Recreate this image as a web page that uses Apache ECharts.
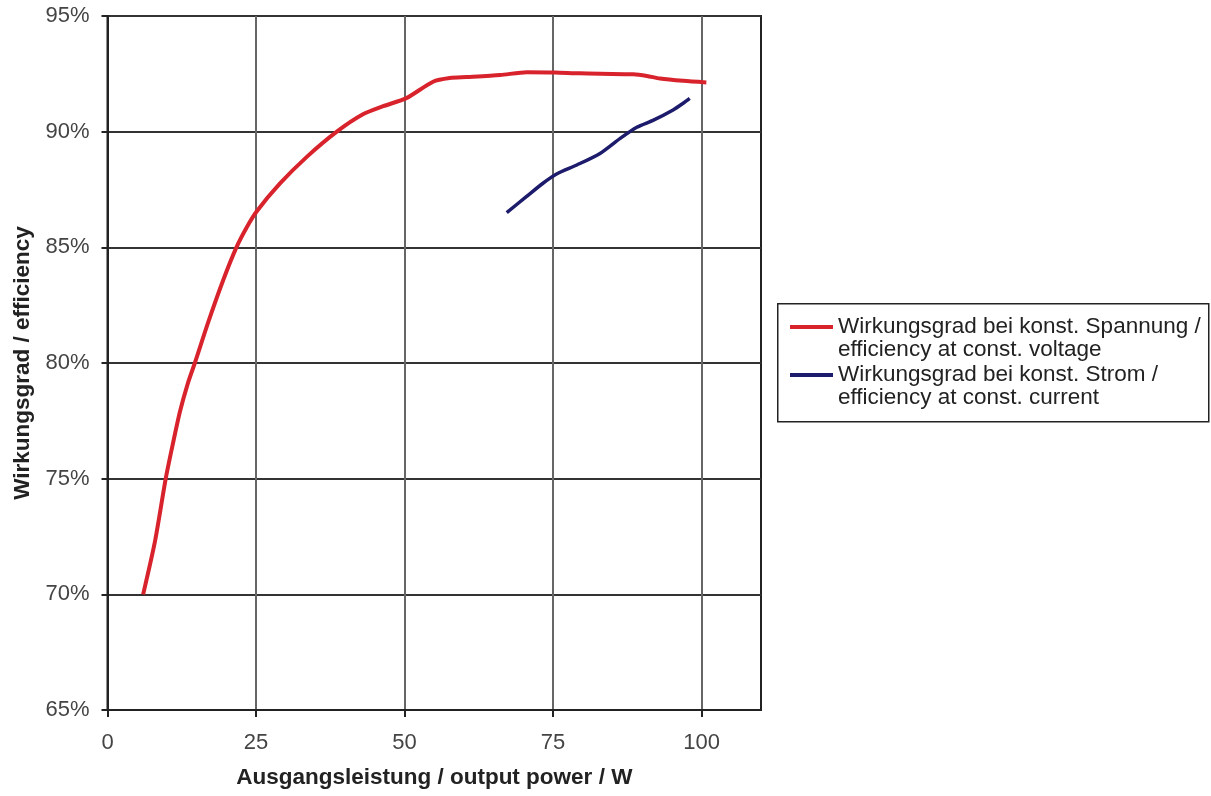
<!DOCTYPE html>
<html>
<head>
<meta charset="utf-8">
<script src="https://cdn.jsdelivr.net/npm/echarts@6/dist/echarts.min.js"></script>
<style>html,body{margin:0;padding:0;background:#fff;}#c{width:1211px;height:796px;}</style>
</head>
<body>
<div id="c"></div>
<script>
const seriesNames = ['Wirkungsgrad bei konst. Spannung /\nefficiency at const. voltage', 'Wirkungsgrad bei konst. Strom /\nefficiency at const. current'];
const redX = [6.0, 8.0, 9.8, 11.0, 12.2, 13.5, 14.7, 17.0, 19.5, 21.7, 23.4, 25.1, 29.0, 33.5, 38.6, 43.0, 46.4, 50.3, 54.8, 57.6, 60.5, 66.1, 70.6, 75.3, 79.5, 88.5, 90.8, 93.0, 96.9, 100.8];
const redY = [70.0, 72.3, 75.0, 76.5, 77.9, 79.1, 80.0, 81.8, 83.6, 85.0, 85.85, 86.55, 87.75, 88.9, 90.0, 90.75, 91.1, 91.45, 92.16, 92.32, 92.36, 92.45, 92.57, 92.56, 92.52, 92.48, 92.41, 92.3, 92.2, 92.13];
const blueX = [67.2, 70.5, 73.3, 75.6, 79.0, 82.9, 86.3, 89.1, 91.9, 95.2, 96.9, 98.0];
const blueY = [86.5, 87.19, 87.77, 88.17, 88.56, 89.06, 89.71, 90.19, 90.5, 90.94, 91.23, 91.44];
const xTicks = [0, 25, 50, 75, 100];
const xName = 'Ausgangsleistung / output power / W';
const yName = 'Wirkungsgrad / efficiency';

const chart = echarts.init(document.getElementById('c'), null, {renderer: 'canvas'});
const font = 'Liberation Sans, Arial, sans-serif';
chart.setOption({
  animation: false,
  backgroundColor: '#fff',
  grid: {left: 107.5, top: 16, right: 450, bottom: 86, show: true, borderColor: '#222', borderWidth: 2, backgroundColor: 'transparent'},
  graphic: [{
    type: 'rect', left: 777, top: 303, shape: {width: 431, height: 118},
    style: {fill: '#fff', stroke: '#222', lineWidth: 1.5}, z: 1
  }],
  legend: {
    orient: 'vertical', left: 790, top: 292.5, padding: 0, itemGap: -21,
    itemWidth: 43, itemHeight: 4, icon: 'rect',
    data: seriesNames,
    formatter: name => '\n' + name,
    textStyle: {fontFamily: font, fontSize: 22.5, lineHeight: 23, color: '#222'},
    z: 5
  },
  xAxis: {
    type: 'value', min: 0, max: 110, interval: 25,
    name: xName, nameLocation: 'middle', nameGap: 56,
    nameTextStyle: {fontFamily: font, fontSize: 22.5, fontWeight: 'bold', color: '#222'},
    axisLine: {show: true, onZero: false, lineStyle: {color: '#222', width: 2}},
    axisTick: {show: true, length: 7, lineStyle: {color: '#222', width: 2}, customValues: xTicks},
    axisLabel: {fontFamily: font, fontSize: 22, color: '#444', margin: 22, customValues: xTicks},
    splitLine: {show: true, lineStyle: {color: '#666', width: 2}}
  },
  yAxis: {
    type: 'value', min: 65, max: 95, interval: 5,
    name: yName, nameLocation: 'middle', nameGap: 70,
    nameTextStyle: {fontFamily: font, fontSize: 22.5, fontWeight: 'bold', color: '#222'},
    axisLine: {show: true, lineStyle: {color: '#222', width: 2}},
    axisTick: {show: true, length: 6, lineStyle: {color: '#222', width: 2}},
    axisLabel: {fontFamily: font, fontSize: 22, color: '#444', margin: 18, formatter: '{value}%'},
    splitLine: {show: true, lineStyle: {color: '#333', width: 2}}
  },
  series: [
    {name: seriesNames[0], type: 'line', data: redX.map((x, i) => [x, redY[i]]),
     showSymbol: false, smooth: 0.25, color: '#d8232c',
     lineStyle: {color: '#d8232c', width: 4}, z: 3},
    {name: seriesNames[1], type: 'line', data: blueX.map((x, i) => [x, blueY[i]]),
     showSymbol: false, smooth: 0.25, color: '#1d1b6b',
     lineStyle: {color: '#1d1b6b', width: 3.5}, z: 3}
  ]
});
</script>
</body>
</html>
